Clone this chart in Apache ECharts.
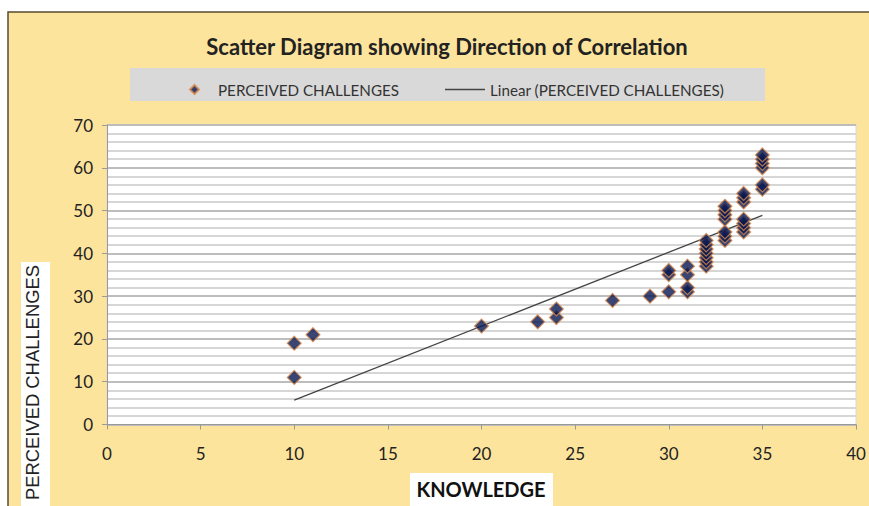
<!DOCTYPE html>
<html>
<head>
<meta charset="utf-8">
<script src="https://cdn.jsdelivr.net/npm/echarts@6/dist/echarts.min.js"></script>
<style>
  html, body { margin: 0; padding: 0; background: #fff; }
  #chart { width: 869px; height: 506px; }
</style>
</head>
<body>
<div id="chart"></div>
<script>
// knowledge score vs perceived challenges
const knowledge = [10, 10, 11, 20, 23, 24, 24, 27, 29,
  30, 30, 30, 31, 31, 31, 31,
  32, 32, 32, 32, 32, 32, 32,
  33, 33, 33, 33, 33, 33, 33,
  34, 34, 34, 34, 34, 34, 34,
  35, 35, 35, 35, 35, 35];
const challenges = [19, 11, 21, 23, 24, 25, 27, 29, 30,
  31, 35, 36, 31, 32, 35, 37,
  37, 38, 39, 40, 41, 42, 43,
  43, 44, 45, 48, 49, 50, 51,
  45, 46, 47, 48, 52, 53, 54,
  55, 56, 60, 61, 62, 63];

// linear trendline end points
const trendX = [10, 35];
const trendY = [5.7, 48.9];

const xTicks = [0, 5, 10, 15, 20, 25, 30, 35, 40];
const yTicks = [0, 10, 20, 30, 40, 50, 60, 70];

const chart = echarts.init(document.getElementById('chart'), null, { renderer: 'svg' });

const points = knowledge.map((k, i) => [k, challenges[i]]);
const trend = trendX.map((x, i) => [x, trendY[i]]);

const legendText = { fontFamily: 'Lato', fontSize: 15.2, color: '#333' };

const option = {
  backgroundColor: '#fff',
  animation: false,
  textStyle: { fontFamily: 'Lato' },
  graphic: [
    {
      type: 'rect', z: -10,
      shape: { x: 8, y: 12, width: 870, height: 500 },
      style: { fill: '#FDE49C', stroke: '#5a4a30', lineWidth: 1.5 }
    },
    {
      type: 'rect', z: -5,
      shape: { x: 130, y: 68, width: 635, height: 33 },
      style: { fill: '#D9D9D9' }
    },
    {
      type: 'rect', z: -5,
      shape: { x: 21, y: 262, width: 29, height: 250 },
      style: { fill: '#fff' }
    },
    {
      type: 'text', left: 23, top: 265,
      rotation: Math.PI / 2,
      style: {
        text: 'PERCEIVED CHALLENGES',
        font: '18.4px "Liberation Sans"',
        fill: '#222'
      }
    },
    {
      type: 'rect', z: -5,
      shape: { x: 410, y: 473, width: 143, height: 40 },
      style: { fill: '#fff' }
    },
    {
      type: 'text', x: 481, y: 489,
      style: {
        text: 'KNOWLEDGE',
        font: 'bold 20px Lato',
        fill: '#111',
        align: 'center',
        verticalAlign: 'middle'
      }
    }
  ],
  title: {
    text: 'Scatter Diagram showing Direction of Correlation',
    left: 442, top: 30, textAlign: 'center',
    textStyle: { fontFamily: 'Lato', fontWeight: 'bold', fontSize: 22, color: '#222' }
  },
  legend: [
    {
      top: 77, left: 184,
      itemWidth: 9, itemHeight: 9, itemGap: 10,
      textStyle: Object.assign({ padding: [0, 0, 0, 14] }, legendText),
      data: [{ name: 'PERCEIVED CHALLENGES', icon: 'diamond' }]
    },
    {
      top: 77, left: 440,
      itemWidth: 40, itemHeight: 1.4,
      textStyle: legendText,
      data: [{ name: 'Linear (PERCEIVED CHALLENGES)', icon: 'rect' }]
    }
  ],
  grid: {
    left: 107, right: 13, top: 125, bottom: 81.5,
    show: true, backgroundColor: '#fff', borderColor: '#d8d8d8', borderWidth: 1
  },
  xAxis: {
    type: 'value', min: 0, max: 40, interval: 5,
    axisLine: { show: true, lineStyle: { color: '#9a9a9a' } },
    axisTick: { show: true, length: 5, lineStyle: { color: '#9a9a9a' } },
    splitLine: { show: false },
    axisLabel: {
      margin: 20, fontSize: 17, color: '#222', fontFamily: 'Lato',
      formatter: v => xTicks.includes(v) ? String(v) : ''
    }
  },
  yAxis: {
    type: 'value', min: 0, max: 70, interval: 10,
    axisLine: { show: true, lineStyle: { color: '#9a9a9a' } },
    axisTick: { show: true, length: 5, lineStyle: { color: '#9a9a9a' } },
    minorTick: { show: false, splitNumber: 5 },
    splitLine: { show: true, lineStyle: { color: '#bdbdbd', width: 2 } },
    minorSplitLine: { show: true, lineStyle: { color: '#d6d6d6', width: 2 } },
    axisLabel: {
      margin: 14, fontSize: 17, color: '#222', fontFamily: 'Lato',
      formatter: v => yTicks.includes(v) ? String(v) : ''
    }
  },
  series: [
    {
      name: 'PERCEIVED CHALLENGES',
      type: 'scatter',
      symbol: 'diamond',
      symbolSize: 14,
      data: points,
      itemStyle: { color: '#071650', borderColor: '#D98A4A', borderWidth: 1.2 },
      z: 3
    },
    {
      name: 'Linear (PERCEIVED CHALLENGES)',
      type: 'line',
      data: trend,
      symbol: 'none',
      lineStyle: { color: '#444', width: 1.3 },
      itemStyle: { color: '#444' },
      z: 2
    }
  ]
};

chart.setOption(option);
</script>
</body>
</html>
